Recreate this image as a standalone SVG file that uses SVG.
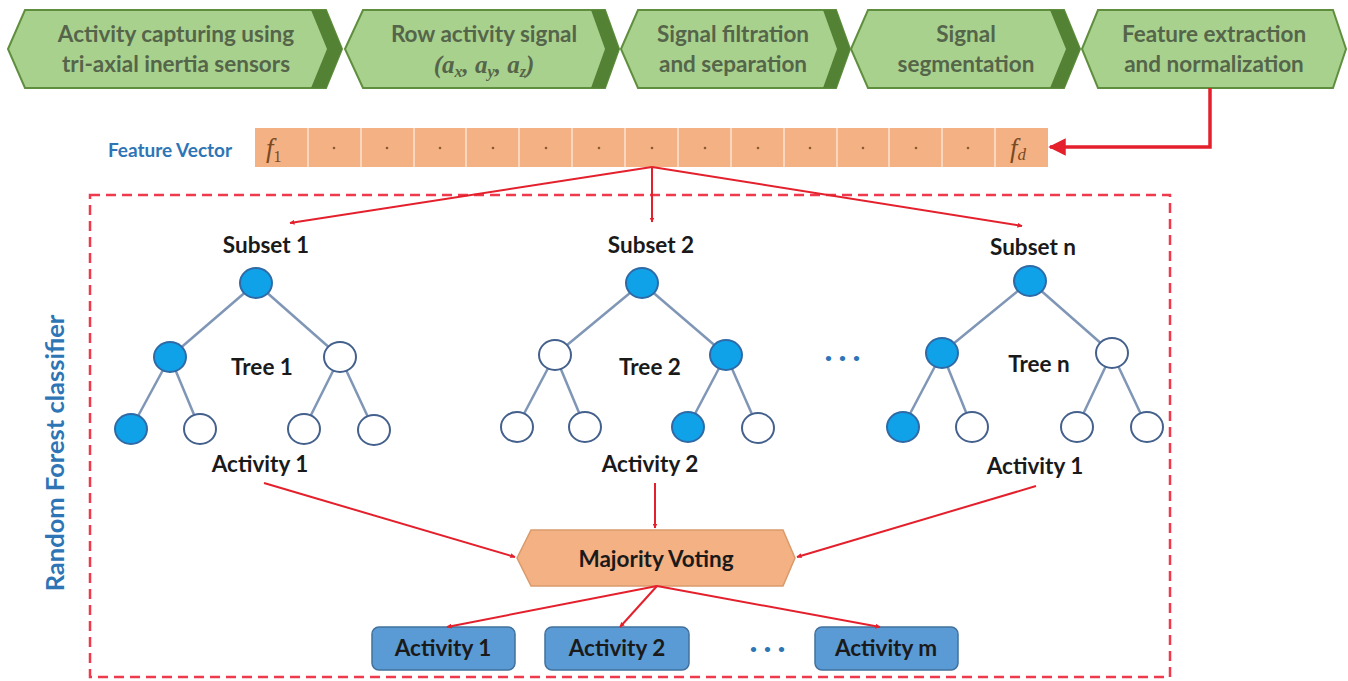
<svg xmlns="http://www.w3.org/2000/svg" width="1348" height="681" viewBox="0 0 1348 681">
<defs>
<style>
.chev{fill:#a9d18e;stroke:#5f8f3e;stroke-width:2}
.band{fill:#548235}
.ct{font-family:Lato,"Open Sans",sans-serif;font-weight:bold;font-size:22.5px;fill:#55654a;text-anchor:middle}
.math{font-family:"Liberation Serif",serif;font-style:italic;font-weight:bold;font-size:25px;fill:#55654a}
.lbl{font-family:Lato,"Open Sans",sans-serif;font-weight:bold;font-size:22.5px;fill:#1a1a1a;text-anchor:middle}
.blue{font-family:Lato,"Open Sans",sans-serif;font-weight:bold;fill:#2e75b6;text-anchor:middle}
.edge{stroke:#7f96b6;stroke-width:2.5}
.nf{fill:#0fa2e8;stroke:#2f6aa6;stroke-width:2}
.ne{fill:#ffffff;stroke:#44608c;stroke-width:2}
.red{stroke:#e3202c;stroke-width:2;fill:none;marker-end:url(#ah)}
.act{fill:#5b9bd5;stroke:#41719c;stroke-width:1.5}
.fv{font-family:"Liberation Serif",serif;font-style:italic;font-size:27px;fill:#7a4a24}
</style>
<marker id="ah" viewBox="0 0 10 10" refX="9" refY="5" markerWidth="5" markerHeight="5" orient="auto" markerUnits="userSpaceOnUse">
<path d="M0,0 L10,5 L0,10 z" fill="#e3202c"/>
</marker>
<marker id="ah2" viewBox="0 0 10 10" refX="9" refY="5" markerWidth="5" markerHeight="5" orient="auto">
<path d="M0,0 L10,5 L0,10 z" fill="#e3202c"/>
</marker>
</defs>
<rect width="1348" height="681" fill="#ffffff"/>

<!-- pipeline chevrons -->
<g id="step1">
<polygon class="chev" points="8,49 25,10 326,10 342,49 326,88 25,88"/>
<polygon class="band" points="311,10 326,10 342,49 326,88 311,88 327,49"/>
<text class="ct" x="176" y="42">Activity capturing using</text>
<text class="ct" x="176" y="72">tri-axial inertia sensors</text>
</g>
<g id="step2">
<polygon class="chev" points="345,49 363,10 605,10 619,49 605,88 363,88"/>
<polygon class="band" points="591,10 605,10 619,49 605,88 591,88 605,49"/>
<text class="ct" x="484" y="42">Row activity signal</text>
<text class="math" x="484" y="73" text-anchor="middle">(a<tspan font-size="16" dy="4">x</tspan><tspan dy="-4">, a</tspan><tspan font-size="16" dy="4">y</tspan><tspan dy="-4">, a</tspan><tspan font-size="16" dy="4">z</tspan><tspan dy="-4">)</tspan></text>
</g>
<g id="step3">
<polygon class="chev" points="621,49 638,10 836,10 850,49 836,88 638,88"/>
<polygon class="band" points="823,10 836,10 850,49 836,88 823,88 837,49"/>
<text class="ct" x="733" y="42">Signal filtration</text>
<text class="ct" x="733" y="72">and separation</text>
</g>
<g id="step4">
<polygon class="chev" points="851,49 868,10 1064,10 1080,49 1064,88 868,88"/>
<polygon class="band" points="1050,10 1064,10 1080,49 1064,88 1050,88 1066,49"/>
<text class="ct" x="966" y="42">Signal</text>
<text class="ct" x="966" y="72">segmentation</text>
</g>
<g id="step5">
<polygon class="chev" points="1082,49 1098,10 1333,10 1346,49 1333,88 1098,88"/>
<text class="ct" x="1214" y="42">Feature extraction</text>
<text class="ct" x="1214" y="72">and normalization</text>
</g>

<!-- feature vector -->
<g id="feature-vector">
<text class="blue" x="170" y="157" font-size="19">Feature Vector</text>
<rect x="255" y="128" width="793" height="39" fill="#f4b183"/>
<g stroke="#fbe3d2" stroke-width="1.5">
<line x1="308" y1="128" x2="308" y2="167"/><line x1="361" y1="128" x2="361" y2="167"/>
<line x1="414" y1="128" x2="414" y2="167"/><line x1="466" y1="128" x2="466" y2="167"/>
<line x1="519" y1="128" x2="519" y2="167"/><line x1="572" y1="128" x2="572" y2="167"/>
<line x1="625" y1="128" x2="625" y2="167"/><line x1="678" y1="128" x2="678" y2="167"/>
<line x1="731" y1="128" x2="731" y2="167"/><line x1="784" y1="128" x2="784" y2="167"/>
<line x1="837" y1="128" x2="837" y2="167"/><line x1="889" y1="128" x2="889" y2="167"/>
<line x1="942" y1="128" x2="942" y2="167"/><line x1="995" y1="128" x2="995" y2="167"/>
</g>
<g fill="#8a5a30">
<circle cx="334" cy="148" r="1.3"/><circle cx="387" cy="148" r="1.3"/><circle cx="440" cy="148" r="1.3"/>
<circle cx="493" cy="148" r="1.3"/><circle cx="546" cy="148" r="1.3"/><circle cx="599" cy="148" r="1.3"/>
<circle cx="652" cy="148" r="1.3"/><circle cx="705" cy="148" r="1.3"/><circle cx="758" cy="148" r="1.3"/>
<circle cx="810" cy="148" r="1.3"/><circle cx="863" cy="148" r="1.3"/><circle cx="916" cy="148" r="1.3"/>
<circle cx="968" cy="148" r="1.3"/>
</g>
<text class="fv" x="266" y="157">f<tspan font-size="16" font-style="normal" dy="5">1</tspan></text>
<text class="fv" x="1010" y="157">f<tspan font-size="17" dy="3">d</tspan></text>
</g>

<!-- random forest frame -->
<g id="random-forest">
<rect x="90" y="195" width="1080" height="482" fill="none" stroke="#ee3a4c" stroke-width="2.5" stroke-dasharray="10 6"/>
<text class="blue" font-size="25.5" transform="translate(64,453) rotate(-90)">Random Forest classifier</text>
</g>

<!-- trees -->
<g id="tree1">
<text class="lbl" x="266" y="253">Subset 1</text>
<g class="edge">
<line x1="256" y1="283" x2="170" y2="357"/><line x1="256" y1="283" x2="340" y2="357"/>
<line x1="170" y1="357" x2="131" y2="429"/><line x1="170" y1="357" x2="200" y2="429"/>
<line x1="340" y1="357" x2="304" y2="429"/><line x1="340" y1="357" x2="374" y2="430"/>
</g>
<ellipse class="nf" cx="256" cy="283" rx="16" ry="15"/>
<ellipse class="nf" cx="170" cy="357" rx="16" ry="15"/>
<ellipse class="ne" cx="340" cy="357" rx="16" ry="15"/>
<ellipse class="nf" cx="131" cy="429" rx="16" ry="15"/>
<ellipse class="ne" cx="200" cy="429" rx="16" ry="15"/>
<ellipse class="ne" cx="304" cy="429" rx="16" ry="15"/>
<ellipse class="ne" cx="374" cy="430" rx="16" ry="15"/>
<text class="lbl" x="262" y="375">Tree 1</text>
<text class="lbl" x="260" y="472">Activity 1</text>
</g>
<g id="tree2">
<text class="lbl" x="651" y="253">Subset 2</text>
<g class="edge">
<line x1="642" y1="283" x2="555" y2="355"/><line x1="642" y1="283" x2="726" y2="355"/>
<line x1="555" y1="355" x2="517" y2="427"/><line x1="555" y1="355" x2="585" y2="427"/>
<line x1="726" y1="355" x2="688" y2="427"/><line x1="726" y1="355" x2="758" y2="428"/>
</g>
<ellipse class="nf" cx="642" cy="283" rx="16" ry="15"/>
<ellipse class="ne" cx="555" cy="355" rx="16" ry="15"/>
<ellipse class="nf" cx="726" cy="355" rx="16" ry="15"/>
<ellipse class="ne" cx="517" cy="427" rx="16" ry="15"/>
<ellipse class="ne" cx="585" cy="427" rx="16" ry="15"/>
<ellipse class="nf" cx="688" cy="427" rx="16" ry="15"/>
<ellipse class="ne" cx="758" cy="428" rx="16" ry="15"/>
<text class="lbl" x="650" y="375">Tree 2</text>
<text class="lbl" x="650" y="472">Activity 2</text>
</g>
<g id="dots-trees">
<text class="blue" x="846" y="362" font-size="12" letter-spacing="7">•••</text>
</g>
<g id="treen">
<text class="lbl" x="1033" y="255">Subset n</text>
<g class="edge">
<line x1="1030" y1="281" x2="942" y2="353"/><line x1="1030" y1="281" x2="1112" y2="353"/>
<line x1="942" y1="353" x2="903" y2="427"/><line x1="942" y1="353" x2="972" y2="427"/>
<line x1="1112" y1="353" x2="1077" y2="427"/><line x1="1112" y1="353" x2="1147" y2="427"/>
</g>
<ellipse class="nf" cx="1030" cy="281" rx="16" ry="15"/>
<ellipse class="nf" cx="942" cy="353" rx="16" ry="15"/>
<ellipse class="ne" cx="1112" cy="353" rx="16" ry="15"/>
<ellipse class="nf" cx="903" cy="427" rx="16" ry="15"/>
<ellipse class="ne" cx="972" cy="427" rx="16" ry="15"/>
<ellipse class="ne" cx="1077" cy="427" rx="16" ry="15"/>
<ellipse class="ne" cx="1147" cy="427" rx="16" ry="15"/>
<text class="lbl" x="1039" y="372">Tree n</text>
<text class="lbl" x="1035" y="474">Activity 1</text>
</g>

<!-- majority voting -->
<g id="majority-voting">
<polygon points="517,558 531,530 783,530 795,558 783,586 531,586" fill="#f4b183" stroke="#d99a6c" stroke-width="1.5"/>
<text class="lbl" x="656" y="567" font-size="24">Majority Voting</text>
</g>

<!-- outputs -->
<g id="out1">
<rect class="act" x="372" y="627" width="143" height="43" rx="7"/>
<text class="lbl" x="443" y="656">Activity 1</text>
</g>
<g id="out2">
<rect class="act" x="545" y="627" width="144" height="43" rx="7"/>
<text class="lbl" x="617" y="656">Activity 2</text>
</g>
<g id="dots-out">
<text class="blue" x="771" y="653" font-size="12" letter-spacing="7">•••</text>
</g>
<g id="outm">
<rect class="act" x="815" y="627" width="143" height="43" rx="7"/>
<text class="lbl" x="886" y="656">Activity m</text>
</g>

<!-- connectors -->
<g id="connectors">
<polyline points="1210,88 1210,147 1050,147" fill="none" stroke="#e3202c" stroke-width="3.5" marker-end="url(#ah2)"/>
<line class="red" x1="652" y1="167" x2="290" y2="223"/>
<line class="red" x1="652" y1="167" x2="652" y2="222"/>
<line class="red" x1="652" y1="167" x2="1022" y2="226"/>
<line class="red" x1="264" y1="483" x2="515" y2="557"/>
<line class="red" x1="655" y1="483" x2="655" y2="528"/>
<line class="red" x1="1036" y1="486" x2="797" y2="557"/>
<line class="red" x1="657" y1="586" x2="447" y2="627"/>
<line class="red" x1="657" y1="586" x2="620" y2="627"/>
<line class="red" x1="657" y1="586" x2="880" y2="627"/>
</g>
</svg>
